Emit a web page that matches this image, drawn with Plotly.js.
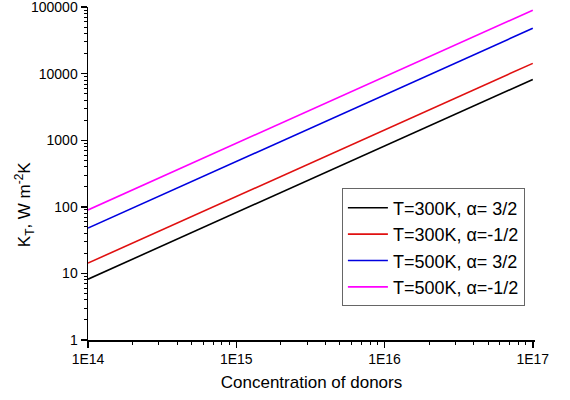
<!DOCTYPE html>
<html><head><meta charset="utf-8">
<script src="https://cdn.plot.ly/plotly-3.0.1.min.js"></script>
<style>body{margin:0;padding:0;background:#fff}</style>
</head><body>
<div id="chart" style="width:570px;height:400px"></div>
<script>
const concentration = [1e14, 1e15, 1e16, 1e17];
const k300_a32 = [8.2, 82, 820, 8200];
const k300_am12 = [14.3, 143, 1430, 14300];
const k500_a32 = [48, 480, 4800, 48000];
const k500_am12 = [90, 900, 9000, 90000];
const seriesNames = ["T=300K, \u03b1= 3/2", "T=300K, \u03b1=-1/2", "T=500K, \u03b1= 3/2", "T=500K, \u03b1=-1/2"];
const seriesColors = ["#000000", "#e01010", "#0000e0", "#ff00ff"];
const seriesValues = [k300_a32, k300_am12, k500_a32, k500_am12];
const xTickVals = [1e14, 1e15, 1e16, 1e17];
const xTickText = ["1E14", "1E15", "1E16", "1E17"];
const yTickVals = [1, 10, 100, 1000, 10000, 100000];
const yTickText = ["1", "10", "100", "1000", "10000", "100000"];
const yTitle = 'K<sub>T</sub>, W m<sup>-2</sup>K';
const xTitle = 'Concentration of donors';

const traces = seriesValues.map((v, i) => ({
  x: concentration, y: v, type: 'scatter', mode: 'lines',
  name: seriesNames[i], line: {color: seriesColors[i], width: 1.6}
}));

const fontFam = 'Arial, "Liberation Sans", sans-serif';
const layout = {
  width: 570, height: 400,
  margin: {l: 88, r: 35, t: 7, b: 60},
  paper_bgcolor: '#fff', plot_bgcolor: '#fff',
  font: {family: fontFam, size: 14, color: '#000'},
  showlegend: true,
  legend: {x: 0.568, y: 0.455, xanchor: 'left', yanchor: 'top',
    bordercolor: '#666', borderwidth: 1, bgcolor: '#fff',
    font: {family: fontFam, size: 18, color: '#000'},
    tracegroupgap: 0, itemwidth: 40},
  annotations: [{text: yTitle, xref: 'paper', yref: 'paper', x: -0.143, y: 0.408,
    xanchor: 'center', yanchor: 'middle', textangle: -90, showarrow: false,
    font: {family: fontFam, size: 17, color: '#000'}}],
  xaxis: {type: 'log', range: [14, 17.015], tickvals: xTickVals, ticktext: xTickText,
    showgrid: false, zeroline: false, showline: true, linecolor: '#000', linewidth: 1.5,
    ticks: 'outside', ticklen: 6, tickwidth: 1.5, tickcolor: '#000', ticklabeloverflow: 'allow',
    minor: {ticks: 'outside', ticklen: 3, tickwidth: 1, tickcolor: '#000', dtick: 'D1', showgrid: false},
    title: {text: xTitle, font: {family: fontFam, size: 17, color: '#000'}, standoff: 10},
    tickfont: {family: fontFam, size: 14, color: '#000'}},
  yaxis: {type: 'log', range: [0, 5.002], tickvals: yTickVals, ticktext: yTickText,
    showgrid: false, zeroline: false, showline: true, linecolor: '#000', linewidth: 1.5,
    ticks: 'outside', ticklen: 6, tickwidth: 1.5, tickcolor: '#000', ticklabeloverflow: 'allow',
    minor: {ticks: 'outside', ticklen: 3, tickwidth: 1, tickcolor: '#000', dtick: 'D1', showgrid: false},
    tickfont: {family: fontFam, size: 14, color: '#000'}}
};
Plotly.newPlot('chart', traces, layout, {displayModeBar: false, staticPlot: true});
</script>
</body></html>
